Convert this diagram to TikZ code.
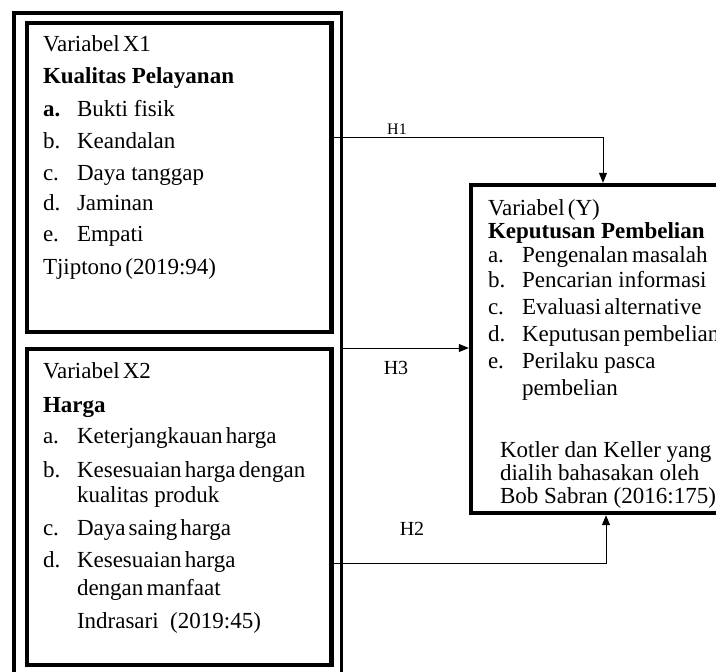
\documentclass[tikz,border=0pt]{standalone}
\usepackage{fontspec}
\setmainfont{Liberation Serif}
\usetikzlibrary{arrows.meta}
\newcommand\tsp{\hspace{0.14em}}
\begin{document}
\begin{tikzpicture}[x=1pt,y=-1pt,
  txt/.style={anchor=base west, inner sep=0pt, outer sep=0pt, font=\fontsize{23}{27}\selectfont},
  btxt/.style={txt, font=\fontsize{23}{27}\selectfont\bfseries},
  lab/.style={anchor=base, inner sep=0pt, font=\fontsize{20}{24}\selectfont},
  varbox/.style={draw, line width=4.5pt, anchor=north west, outer sep=0pt, inner sep=0pt},
  outerbox/.style={draw, line width=3.5pt, anchor=north west, outer sep=0pt, inner sep=0pt},
  conn/.style={draw, line width=1pt, -{Triangle[length=10pt,width=8pt]}, shorten >=2.2pt}
]
\useasboundingbox (0,0) rectangle (716,672);
\clip (0,0) rectangle (716,672);
\fill[white] (0,0) rectangle (716,672);

% boxes
\node[outerbox, minimum width=327.5pt, minimum height=700pt] (outer) at (14,13) {};
\node[varbox, minimum width=304.5pt, minimum height=309pt] (x1) at (27,23) {};
\node[varbox, minimum width=304.5pt, minimum height=316pt] (x2) at (27,349) {};
\node[varbox, minimum width=300pt, minimum height=328pt] (y) at (471,185) {};

% X1 text
\node[txt] (x1t1) at (43,51) {Variabel\tsp X1};
\node[btxt] (x1t2) at (43,83) {Kualitas Pelayanan};
\node[btxt] (x1la) at (43,116) {a.};
\node[txt] (x1ia) at (77,116) {Bukti fisik};
\node[txt] (x1lb) at (43,148) {b.};
\node[txt] (x1ib) at (77,148) {Keandalan};
\node[txt] (x1lc) at (43,180) {c.};
\node[txt] (x1ic) at (77,180) {Daya tanggap};
\node[txt] (x1ld) at (43,210) {d.};
\node[txt] (x1id) at (77,210) {Jaminan};
\node[txt] (x1le) at (43,241) {e.};
\node[txt] (x1ie) at (77,241) {Empati};
\node[txt] (x1src) at (43,274) {Tjiptono\tsp(2019:94)};

% X2 text
\node[txt] (x2t1) at (43,378) {Variabel\tsp X2};
\node[btxt] (x2t2) at (43,412) {Harga};
\node[txt] (x2la) at (43,443) {a.};
\node[txt] (x2ia) at (77,443) {Keterjangkauan\tsp harga};
\node[txt] (x2lb) at (43,477) {b.};
\node[txt] (x2ib) at (77,477) {Kesesuaian\tsp harga\tsp dengan};
\node[txt] (x2ib2) at (77,502) {kualitas produk};
\node[txt] (x2lc) at (43,535) {c.};
\node[txt] (x2ic) at (77,535) {Daya\tsp saing\tsp harga};
\node[txt] (x2ld) at (43,567) {d.};
\node[txt] (x2id) at (77,567) {Kesesuaian\tsp harga};
\node[txt] (x2id2) at (77,595) {dengan\tsp manfaat};
\node[txt] (x2src) at (77,628) {Indrasari\ \ (2019:45)};

% Y text
\node[txt] (yt1) at (488,215) {Variabel\tsp(Y)};
\node[btxt] (yt2) at (488,238) {Keputusan Pembelian};
\node[txt] (yla) at (488,262) {a.};
\node[txt] (yia) at (522,262) {Pengenalan\hspace{0.18em}masalah};
\node[txt] (ylb) at (488,287) {b.};
\node[txt] (yib) at (522,287) {Pencarian informasi};
\node[txt] (ylc) at (488,314) {c.};
\node[txt] (yic) at (522,314) {Evaluasi\tsp alternative};
\node[txt] (yld) at (488,341) {d.};
\node[txt] (yid) at (522,341) {Keputusan\tsp pembelian};
\node[txt] (yle) at (488,368) {e.};
\node[txt] (yie) at (522,368) {Perilaku pasca};
\node[txt] (yie2) at (522,395) {pembelian};
\node[txt] (ys1) at (500,457) {Kotler dan Keller yang};
\node[txt] (ys2) at (500,480) {dialih bahasakan oleh};
\node[txt] (ys3) at (500,503) {Bob Sabran (2016:175)};

% connectors
\coordinate (l1) at (603,137);
\coordinate (l3) at (0,348);
\coordinate (l2) at (606,563);
\draw[conn] (x1.east |- l1) -| (y.north -| l1);
\draw[conn] (outer.east |- l3) -- (y.west |- l3);
\draw[conn] (x2.east |- l2) -| (y.south -| l2);

% labels
\node[lab, font=\fontsize{16}{19}\selectfont] (h1) at (397,134) {H1};
\node[lab] (h3) at (396,374) {H3};
\node[lab] (h2) at (412,535) {H2};
\end{tikzpicture}
\end{document}
